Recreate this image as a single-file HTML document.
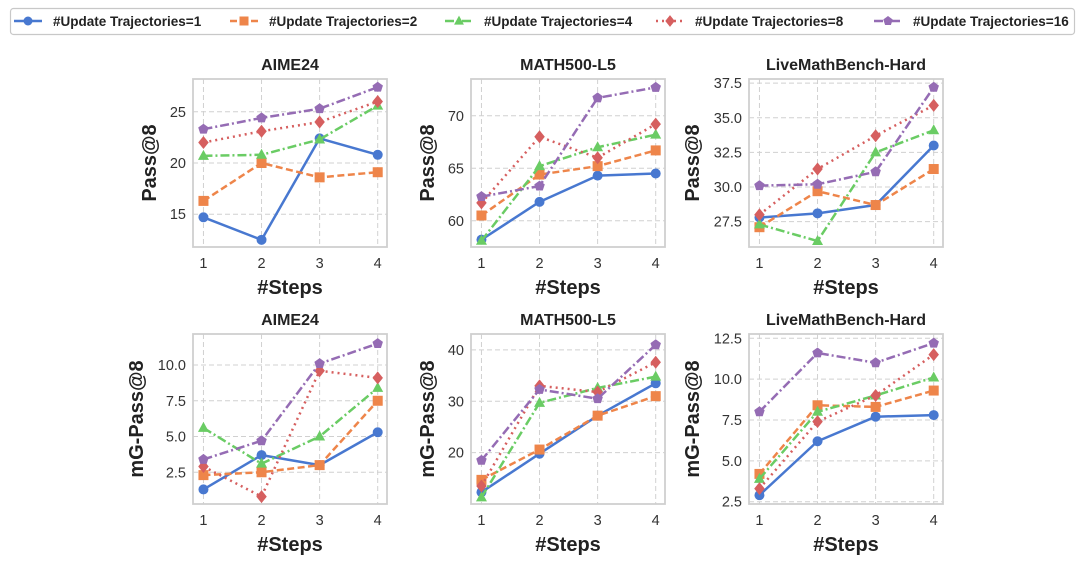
<!DOCTYPE html>
<html><head><meta charset="utf-8"><style>
body{margin:0;background:#fff;}
svg{display:block;font-family:"Liberation Sans",Arial,sans-serif;}
</style></head><body>
<svg id="chart" width="1080" height="566" viewBox="0 0 1080 566">
<g id="legend"></g>
<g id="panels"></g>
</svg>
<script>
const steps=[1,2,3,4];
const seriesNames=["#Update Trajectories=1","#Update Trajectories=2","#Update Trajectories=4","#Update Trajectories=8","#Update Trajectories=16"];
const aimePass1=[14.7,12.5,22.4,20.8];
const aimePass2=[16.3,20.0,18.6,19.1];
const aimePass4=[20.7,20.8,22.3,25.6];
const aimePass8=[22.0,23.1,24.0,26.0];
const aimePass16=[23.3,24.4,25.3,27.4];
const mathPass1=[58.2,61.8,64.3,64.5];
const mathPass2=[60.5,64.4,65.2,66.7];
const mathPass4=[58.1,65.2,67.0,68.2];
const mathPass8=[61.7,68.0,66.0,69.2];
const mathPass16=[62.3,63.3,71.7,72.7];
const lmbPass1=[27.8,28.1,28.7,33.0];
const lmbPass2=[27.1,29.7,28.7,31.3];
const lmbPass4=[27.3,26.1,32.5,34.1];
const lmbPass8=[28.0,31.3,33.7,35.9];
const lmbPass16=[30.1,30.2,31.1,37.2];
const aimeMg1=[1.3,3.7,3.0,5.3];
const aimeMg2=[2.3,2.5,3.0,7.5];
const aimeMg4=[5.6,3.1,5.0,8.4];
const aimeMg8=[2.9,0.8,9.6,9.1];
const aimeMg16=[3.4,4.7,10.1,11.5];
const mathMg1=[12.3,19.8,27.2,33.5];
const mathMg2=[14.7,20.6,27.2,31.0];
const mathMg4=[11.3,29.7,32.6,34.8];
const mathMg8=[13.5,33.0,31.8,37.6];
const mathMg16=[18.5,32.3,30.5,41.0];
const lmbMg1=[2.9,6.2,7.7,7.8];
const lmbMg2=[4.2,8.4,8.3,9.3];
const lmbMg4=[3.9,8.0,9.0,10.1];
const lmbMg8=[3.3,7.4,9.0,11.5];
const lmbMg16=[8.0,11.6,11.0,12.2];
const aimePassTicks=["15","20","25"];
const mathPassTicks=["60","65","70"];
const lmbPassTicks=["27.5","30.0","32.5","35.0","37.5"];
const aimeMgTicks=["2.5","5.0","7.5","10.0"];
const mathMgTicks=["20","30","40"];
const lmbMgTicks=["2.5","5.0","7.5","10.0","12.5"];
const xTickLabels=["1","2","3","4"];

const NS="http://www.w3.org/2000/svg";
const colors=["#4878d0","#ee854a","#6acc64","#d65f5f","#956cb4"];
const dashes=["","7,3.5","9,3,2,3","2,4","9,3,2,3"];
const markers=["circle","square","triangle","diamond","pentagon"];
function mk(tag,attrs,parent){const e=document.createElementNS(NS,tag);for(const k in attrs)e.setAttribute(k,attrs[k]);parent.appendChild(e);return e;}
function marker(type,x,y,r,color,parent){
  let e;
  if(type==="circle")e=mk("circle",{cx:x,cy:y,r:r,fill:color},parent);
  else if(type==="square")e=mk("rect",{x:x-r,y:y-r,width:2*r,height:2*r,fill:color},parent);
  else if(type==="triangle")e=mk("polygon",{points:`${x},${y-r*1.2} ${x+r*1.1},${y+r*0.8} ${x-r*1.1},${y+r*0.8}`,fill:color},parent);
  else if(type==="diamond")e=mk("polygon",{points:`${x},${y-r*1.3} ${x+r*1.05},${y} ${x},${y+r*1.3} ${x-r*1.05},${y}`,fill:color},parent);
  else {let p=[];for(let i=0;i<5;i++){const a=-Math.PI/2+i*2*Math.PI/5;p.push((x+r*1.1*Math.cos(a))+","+(y+r*1.1*Math.sin(a)));}e=mk("polygon",{points:p.join(" "),fill:color},parent);}
  return e;
}
// legend
const lg=document.getElementById("legend");
const lb=mk("rect",{x:10.5,y:8.5,width:1064,height:26,rx:3,fill:"#fff",stroke:"#c8c8c8","stroke-width":1.2},lg);


const legX=[14,230,445,656,874];
seriesNames.forEach((n,i)=>{
  const g=mk("g",{},lg);
  
  
  mk("line",{x1:legX[i],y1:21,x2:legX[i]+28,y2:21,stroke:colors[i],"stroke-width":2.5,"stroke-dasharray":dashes[i]},g);
  marker(markers[i],legX[i]+14,21,4.5,colors[i],g);
  const t=mk("text",{x:legX[i]+39,y:26,"font-size":13.5,"font-weight":"bold",fill:"#222"},g);
  t.textContent=n;
});
// panels
const panels=[
 {title:"AIME24",ylab:"Pass@8",x0:193,y0:79,y1:247,ymin:11.8,ymax:28.2,ticks:aimePassTicks,data:[aimePass1,aimePass2,aimePass4,aimePass8,aimePass16]},
 {title:"MATH500-L5",ylab:"Pass@8",x0:471,y0:79,y1:247,ymin:57.5,ymax:73.5,ticks:mathPassTicks,data:[mathPass1,mathPass2,mathPass4,mathPass8,mathPass16]},
 {title:"LiveMathBench-Hard",ylab:"Pass@8",x0:749,y0:79,y1:247,ymin:25.67,ymax:37.8,ticks:lmbPassTicks,data:[lmbPass1,lmbPass2,lmbPass4,lmbPass8,lmbPass16]},
 {title:"AIME24",ylab:"mG-Pass@8",x0:193,y0:334,y1:504,ymin:0.28,ymax:12.17,ticks:aimeMgTicks,data:[aimeMg1,aimeMg2,aimeMg4,aimeMg8,aimeMg16]},
 {title:"MATH500-L5",ylab:"mG-Pass@8",x0:471,y0:334,y1:504,ymin:10,ymax:43.1,ticks:mathMgTicks,data:[mathMg1,mathMg2,mathMg4,mathMg8,mathMg16]},
 {title:"LiveMathBench-Hard",ylab:"mG-Pass@8",x0:749,y0:334,y1:504,ymin:2.36,ymax:12.76,ticks:lmbMgTicks,data:[lmbMg1,lmbMg2,lmbMg4,lmbMg8,lmbMg16]}
];
const W=194, XMIN=0.82, XMAX=4.16;
const pg=document.getElementById("panels");
panels.forEach((p,pi)=>{
  const g=mk("g",{},pg);
  
  
  const X=v=>p.x0+(v-XMIN)/(XMAX-XMIN)*W;
  const Y=v=>p.y1-(v-p.ymin)/(p.ymax-p.ymin)*(p.y1-p.y0);
  mk("rect",{x:p.x0,y:p.y0,width:W,height:p.y1-p.y0,fill:"#fff"},g);
  steps.forEach((s,i)=>{
    mk("line",{x1:X(s),y1:p.y0,x2:X(s),y2:p.y1,stroke:"#d0d0d0","stroke-width":1,"stroke-dasharray":"5,3"},g);
    const t=mk("text",{x:X(s),y:p.y1+21,"font-size":14.5,"text-anchor":"middle",fill:"#333"},g);
    
    
    t.textContent=xTickLabels[i];
  });
  p.ticks.forEach(tk=>{
    const v=parseFloat(tk);
    mk("line",{x1:p.x0,y1:Y(v),x2:p.x0+W,y2:Y(v),stroke:"#d0d0d0","stroke-width":1,"stroke-dasharray":"5,3"},g);
    const t=mk("text",{x:p.x0-7,y:Y(v)+5,"font-size":14.5,"text-anchor":"end",fill:"#333"},g);
    
    
    t.textContent=tk;
  });
  const fr=mk("rect",{x:p.x0,y:p.y0,width:W,height:p.y1-p.y0,fill:"none",stroke:"#cfcfcf","stroke-width":1.8},g);
  
  
  p.data.forEach((arr,si)=>{
    const sg=mk("g",{},g);
    
    
    mk("polyline",{points:arr.map((v,i)=>X(steps[i])+","+Y(v)).join(" "),fill:"none",stroke:colors[si],"stroke-width":2.5,"stroke-dasharray":dashes[si],"stroke-linejoin":"round"},sg);
    arr.forEach((v,i)=>{
      const m=marker(markers[si],X(steps[i]),Y(v),5,colors[si],sg);
      
      
    });
  });
  const tt=mk("text",{x:p.x0+W/2,y:p.y0-9,"font-size":16,"font-weight":"bold","text-anchor":"middle",fill:"#222"},g);
  
  
  tt.textContent=p.title;
  const xl=mk("text",{x:p.x0+W/2,y:p.y1+47,"font-size":20,"font-weight":"bold","text-anchor":"middle",fill:"#222"},g);
  
  
  xl.textContent="#Steps";
  const yc=(p.y0+p.y1)/2, yx=p.x0-(p.ticks[0].length>2?50:37);
  const yl=mk("text",{x:yx,y:yc,"font-size":20,"font-weight":"bold","text-anchor":"middle",fill:"#222",transform:`rotate(-90 ${yx} ${yc})`},g);
  
  
  yl.textContent=p.ylab;
});
</script>
</body></html>
